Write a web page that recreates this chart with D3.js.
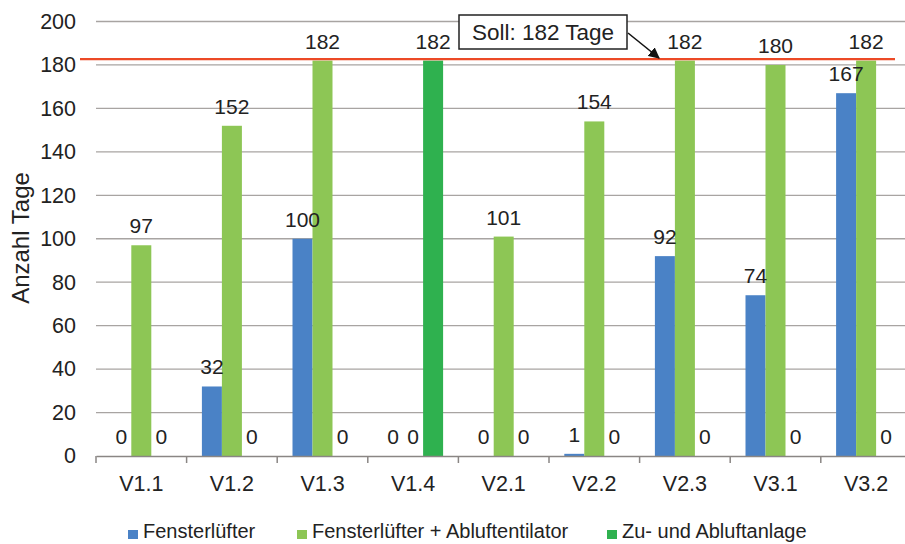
<!DOCTYPE html>
<html>
<head>
<meta charset="utf-8">
<script src="https://cdn.jsdelivr.net/npm/d3@7"></script>
<style>
  html, body { margin: 0; padding: 0; background: #fff; }
  svg { display: block; font-family: "Liberation Sans", Arial, sans-serif; }
</style>
</head>
<body>
<svg id="chart" width="905" height="544"></svg>
<script>
// Days per variant and ventilation system
const categories = ["V1.1", "V1.2", "V1.3", "V1.4", "V2.1", "V2.2", "V2.3", "V3.1", "V3.2"];
const seriesNames = ["Fensterlüfter", "Fensterlüfter + Abluftentilator", "Zu- und Abluftanlage"];
const fensterluefter = [0, 32, 100, 0, 0, 1, 92, 74, 167];
const mitAbluftventilator = [97, 152, 182, 0, 101, 154, 182, 180, 182];
const zuUndAbluft = [0, 0, 0, 182, 0, 0, 0, 0, 0];
const yTicks = [0, 20, 40, 60, 80, 100, 120, 140, 160, 180, 200];
const targetDays = 182;
const targetLabel = "Soll: 182 Tage";
const yTitle = "Anzahl Tage";

const seriesValues = [fensterluefter, mitAbluftventilator, zuUndAbluft];
const colors = ["#4a82c6", "#8dc655", "#2fb14f"];
const textColor = "#222";
const fontFamily = "Liberation Sans, Arial, sans-serif";

const svg = d3.select("#chart");
const left = 96, bandW = 90.6;

const x = d3.scaleBand()
  .domain(categories)
  .range([left, left + bandW * categories.length])
  .paddingInner(0).paddingOuter(0);

const y = d3.scaleLinear().domain([0, 200]).range([456, 21.5]);

const sub = d3.scaleBand()
  .domain(d3.range(seriesNames.length))
  .range([0, x.bandwidth()])
  .paddingOuter(15.3 / 20)
  .paddingInner(0);

// grid lines
svg.append("g")
  .selectAll("line")
  .data(yTicks.filter(t => t > 0))
  .join("line")
  .attr("x1", left).attr("x2", 905)
  .attr("y1", d => y(d)).attr("y2", d => y(d))
  .attr("stroke", "#a8a4a2").attr("stroke-width", 1.3);

// y axis labels
const yAxis = d3.axisLeft(y).tickValues(yTicks).tickSize(0).tickPadding(20);
const gy = svg.append("g").attr("transform", `translate(${left},0)`).call(yAxis);
gy.select(".domain").remove();
gy.selectAll("text")
  .attr("font-size", 21.5).attr("fill", textColor)
  .attr("font-family", fontFamily);

// y title
svg.append("text")
  .attr("transform", "translate(29,238) rotate(-90)")
  .attr("text-anchor", "middle")
  .attr("font-size", 24).attr("fill", textColor)
  .text(yTitle);

// bars
const rows = categories.map((c, i) => ({ c, vals: seriesValues.map(s => s[i]) }));
const groups = svg.append("g").selectAll("g")
  .data(rows).join("g")
  .attr("transform", d => `translate(${x(d.c)},0)`);

groups.selectAll("rect")
  .data(d => d.vals.map((v, k) => ({ v, k })))
  .join("rect")
  .attr("x", d => sub(d.k))
  .attr("width", sub.bandwidth())
  .attr("y", d => y(d.v))
  .attr("height", d => y(0) - y(d.v))
  .attr("fill", d => colors[d.k]);

// value labels above each bar
groups.selectAll("text")
  .data(d => d.vals.map((v, k) => ({ v, k })))
  .join("text")
  .attr("x", d => sub(d.k) + sub.bandwidth() / 2)
  .attr("y", d => y(d.v) - 12)
  .attr("text-anchor", "middle")
  .attr("font-size", 21).attr("fill", textColor)
  .text(d => d.v);

// x axis
const xAxis = d3.axisBottom(x).tickSize(0).tickPadding(20);
const gx = svg.append("g").attr("transform", `translate(0,${y(0)})`).call(xAxis);
gx.select(".domain").attr("stroke", "#8a8684").attr("stroke-width", 1.5);
gx.selectAll("text")
  .attr("font-size", 21.5).attr("fill", textColor)
  .attr("font-family", fontFamily);
gx.selectAll(".tickmark")
  .data(d3.range(categories.length + 1))
  .join("line")
  .attr("class", "tickmark")
  .attr("x1", i => left + i * bandW).attr("x2", i => left + i * bandW)
  .attr("y1", 0).attr("y2", 7)
  .attr("stroke", "#8a8684").attr("stroke-width", 1.5);

// target line
svg.append("line")
  .attr("x1", 80).attr("x2", 895)
  .attr("y1", y(targetDays) - 1.5).attr("y2", y(targetDays) - 1.5)
  .attr("stroke", "#ec4a26").attr("stroke-width", 2.2);

// annotation box with arrow
svg.append("defs").append("marker")
  .attr("id", "arrowhead")
  .attr("viewBox", "0 0 10 10")
  .attr("refX", 9).attr("refY", 5)
  .attr("markerWidth", 7).attr("markerHeight", 7)
  .attr("orient", "auto")
  .append("path").attr("d", "M0,0 L10,5 L0,10 z").attr("fill", "#111");

svg.append("line")
  .attr("x1", 628).attr("y1", 33)
  .attr("x2", 659).attr("y2", 58)
  .attr("stroke", "#111").attr("stroke-width", 1.6)
  .attr("marker-end", "url(#arrowhead)");

svg.append("rect")
  .attr("x", 459).attr("y", 15).attr("width", 168).attr("height", 34)
  .attr("fill", "#fff").attr("stroke", "#222").attr("stroke-width", 1.5);
svg.append("text")
  .attr("x", 543).attr("y", 40)
  .attr("text-anchor", "middle")
  .attr("font-size", 22.5).attr("fill", textColor)
  .text(targetLabel);

// legend
const legendX = [128, 297, 607];
const legend = svg.append("g").selectAll("g")
  .data(seriesNames).join("g")
  .attr("transform", (d, i) => `translate(${legendX[i]},530)`);
legend.append("rect")
  .attr("width", 10).attr("height", 9)
  .attr("fill", (d, i) => colors[i]);
legend.append("text")
  .attr("x", 15).attr("y", 8)
  .attr("font-size", 20).attr("fill", textColor)
  .text(d => d);
</script>
</body>
</html>
